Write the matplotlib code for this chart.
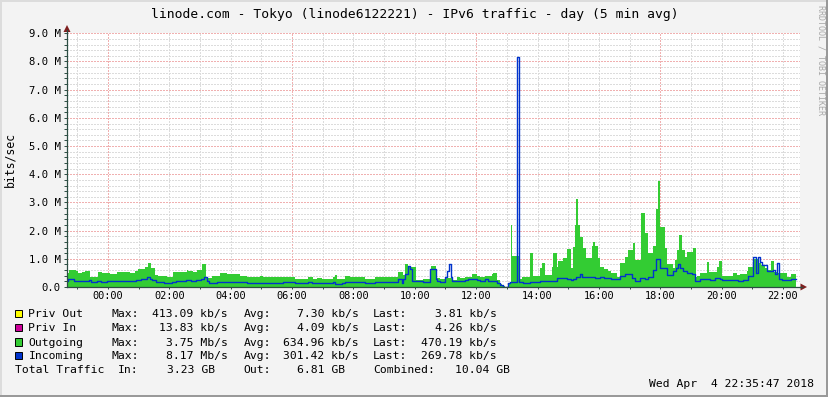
import matplotlib
matplotlib.use("Agg")
import matplotlib.pyplot as plt
from matplotlib.patches import Polygon, Rectangle
from matplotlib.lines import Line2D
import numpy as np

# ---------------- data (hours relative to 00:00, values in Mb/s) ----------------
out_time = [-1.35, -1.26, -1.04, -0.97, -0.86, -0.75, -0.59, -0.31, -0.21, 0.07, 0.28, 0.50,
            0.72, 0.88, 0.99, 1.21, 1.32, 1.39, 1.53, 1.64, 1.91, 2.13, 2.24, 2.56, 2.62, 2.78,
            2.89, 3.05, 3.19, 3.38, 3.65, 3.87, 4.30, 4.52, 4.95, 5.04, 5.88, 6.10, 6.53, 6.69,
            6.80, 6.96, 7.34, 7.40, 7.45, 7.72, 7.89, 8.38, 8.70, 8.97, 9.46, 9.63, 9.68, 9.79,
            10.04, 10.26, 10.53, 10.68, 10.82, 10.98, 11.04, 11.20, 11.36, 11.47, 11.64, 11.74,
            11.87, 12.04, 12.13, 12.29, 12.51, 12.56, 12.69, 12.78, 12.83, 12.94, 13.05, 13.13,
            13.18, 13.40, 13.48, 13.76, 13.86, 14.08, 14.14, 14.24, 14.46, 14.51, 14.62, 14.68,
            14.84, 14.95, 15.08, 15.17, 15.22, 15.27, 15.33, 15.38, 15.47, 15.58, 15.76, 15.82,
            15.87, 15.98, 16.03, 16.17, 16.31, 16.39, 16.58, 16.69, 16.85, 16.96, 17.12, 17.18,
            17.36, 17.50, 17.61, 17.77, 17.86, 17.94, 17.99, 18.16, 18.21, 18.43, 18.48, 18.56,
            18.62, 18.70, 18.81, 18.88, 19.08, 19.16, 19.21, 19.29, 19.51, 19.60, 19.84, 19.92,
            20.00, 20.38, 20.49, 20.60, 20.82, 20.87, 21.03, 21.23, 21.30, 21.41, 21.47, 21.60,
            21.71, 21.80, 21.85, 22.12, 22.25]
out_vals = [0.50, 0.60, 0.55, 0.48, 0.52, 0.55, 0.36, 0.54, 0.50, 0.46, 0.54, 0.52,
            0.49, 0.58, 0.64, 0.72, 0.84, 0.68, 0.42, 0.40, 0.35, 0.54, 0.52, 0.60, 0.56, 0.53,
            0.60, 0.82, 0.32, 0.40, 0.48, 0.46, 0.38, 0.36, 0.40, 0.36, 0.34, 0.30, 0.34, 0.27,
            0.31, 0.27, 0.34, 0.43, 0.28, 0.39, 0.34, 0.27, 0.37, 0.34, 0.52, 0.43, 0.82, 0.72,
            0.25, 0.27, 0.74, 0.31, 0.27, 0.37, 0.33, 0.25, 0.34, 0.31, 0.34, 0.37,
            0.46, 0.39, 0.37, 0.40, 0.46, 0.50, 0.25, 0.11, 0.04, 0.00, 0.11, 2.20,
            1.10, 0.27, 0.34, 1.19, 0.39, 0.66, 0.84, 0.42, 0.72, 1.20, 0.70, 0.94,
            1.02, 1.34, 0.66, 1.43, 2.20, 3.12, 2.20, 1.79, 1.38, 1.02, 1.46, 1.58,
            1.46, 1.02, 0.70, 0.63, 0.58, 0.50, 0.34, 0.84, 1.05, 1.31, 1.57, 0.96,
            2.61, 1.93, 1.19, 1.45, 2.75, 3.75, 2.14, 1.39, 0.82, 0.66, 0.96, 1.31,
            1.84, 1.31, 1.05, 1.25, 1.37, 0.34, 0.39, 0.50, 0.90, 0.54, 0.70, 0.93,
            0.39, 0.48, 0.42, 0.46, 0.58, 0.70, 0.98, 0.86, 0.78, 0.66, 0.60, 0.93,
            0.54, 0.86, 0.50, 0.36, 0.47]

in_time = [-1.35, -1.30, -1.16, -1.11, -0.94, -0.62, -0.57, -0.35, -0.24, -0.02, 0.74, 0.90,
           1.06, 1.28, 1.37, 1.45, 1.55, 1.83, 2.10, 2.21, 2.53, 2.70, 2.86, 3.02, 3.13, 3.22,
           3.29, 3.40, 3.56, 3.73, 4.11, 4.54, 5.12, 5.44, 5.61, 5.71, 6.10, 6.53, 6.64, 7.34,
           7.40, 7.62, 7.72, 8.38, 8.70, 8.97, 9.46, 9.57, 9.63, 9.68, 9.77, 9.84, 9.90, 10.26,
           10.50, 10.68, 10.73, 10.82, 10.98, 11.04, 11.10, 11.18, 11.20, 11.64, 11.74, 12.04,
           12.13, 12.29, 12.40, 12.69, 12.78, 12.88, 13.05, 13.11, 13.34, 13.40, 13.52, 13.76,
           14.08, 14.62, 14.95, 15.08, 15.17, 15.27, 15.38, 15.44, 15.70, 15.87, 16.03, 16.17,
           16.39, 16.69, 16.85, 17.07, 17.18, 17.34, 17.50, 17.61, 17.77, 17.86, 17.99, 18.21,
           18.43, 18.51, 18.59, 18.66, 18.75, 18.86, 19.02, 19.13, 19.29, 19.62, 19.78, 19.95,
           20.00, 20.54, 20.71, 20.87, 21.03, 21.11, 21.20, 21.25, 21.33, 21.47, 21.69, 21.74,
           21.80, 21.88, 21.96, 22.25]
in_vals = [0.22, 0.30, 0.27, 0.22, 0.21, 0.25, 0.18, 0.21, 0.18, 0.22, 0.21, 0.25,
           0.27, 0.37, 0.30, 0.25, 0.18, 0.13, 0.165, 0.21, 0.25, 0.22, 0.25, 0.27, 0.37, 0.22,
           0.13, 0.15, 0.18, 0.19, 0.165, 0.15, 0.13, 0.15, 0.13, 0.165, 0.13, 0.165, 0.13, 0.165,
           0.09, 0.13, 0.165, 0.13, 0.19, 0.165, 0.27, 0.15, 0.30, 0.46, 0.74, 0.64, 0.22, 0.165,
           0.64, 0.30, 0.22, 0.19, 0.37, 0.58, 0.82, 0.37, 0.22, 0.25, 0.27, 0.25,
           0.22, 0.27, 0.20, 0.13, 0.07, 0.01, 0.15, 0.18, 8.17, 0.18, 0.13, 0.19,
           0.21, 0.31, 0.29, 0.25, 0.30, 0.34, 0.45, 0.34, 0.34, 0.31, 0.34, 0.31,
           0.27, 0.39, 0.45, 0.31, 0.21, 0.31, 0.28, 0.36, 0.60, 0.98, 0.66, 0.43,
           0.55, 0.66, 0.80, 0.66, 0.55, 0.49, 0.45, 0.21, 0.27, 0.26, 0.31, 0.27,
           0.24, 0.21, 0.24, 0.39, 1.05, 0.49, 1.05, 0.90, 0.78, 0.55, 0.60, 0.45,
           0.84, 0.27, 0.24, 0.27]
end_time = 22.43

y_ticks = [0, 1, 2, 3, 4, 5, 6, 7, 8, 9]
y_labels = ["0.0", "1.0 M", "2.0 M", "3.0 M", "4.0 M", "5.0 M", "6.0 M", "7.0 M", "8.0 M", "9.0 M"]
x_ticks = [0, 2, 4, 6, 8, 10, 12, 14, 16, 18, 20, 22]
x_labels = ["00:00", "02:00", "04:00", "06:00", "08:00", "10:00", "12:00",
            "14:00", "16:00", "18:00", "20:00", "22:00"]

title = "linode.com - Tokyo (linode6122221) - IPv6 traffic - day (5 min avg)"
y_title = "bits/sec"
leg_names = ["Priv Out", "Priv In", "Outgoing", "Incoming"]
leg_colors = ["#FFFF00", "#CC0099", "#33CC33", "#0033CC"]
leg_max = ["413.09 kb/s", "13.83 kb/s", "3.75 Mb/s", "8.17 Mb/s"]
leg_avg = ["7.30 kb/s", "4.09 kb/s", "634.96 kb/s", "301.42 kb/s"]
leg_last = ["3.81 kb/s", "4.26 kb/s", "470.19 kb/s", "269.78 kb/s"]
total_in = "3.23 GB"
total_out = "6.81 GB"
total_comb = "10.04 GB"
stamp = "Wed Apr  4 22:35:47 2018"
watermark = "RRDTOOL / TOBI OETIKER"

# ---------------- layout ----------------
W, H = 829, 397
BG = "#F3F3F3"
MONO = "DejaVu Sans Mono"
AXIS_C = "#2C4D43"
ARROW_C = "#7F1F1F"
GRID_C = "#DCDCDC"
MGRID_C = "#F0B0B0"

fig = plt.figure(figsize=(W / 100, H / 100), dpi=100)
fig.patch.set_facecolor(BG)


def fx(x):
    return x / W


def fy(y):
    return 1 - y / H


ax = fig.add_axes([fx(67), fy(287), (800 - 67) / W, (287 - 33.3) / H])
ax.set_facecolor("white")
ax.set_xlim(-1.336, 22.555)
ax.set_ylim(0, 9.0)

dot = (0, (1.4, 1.4))
for h in range(-1, 23):
    ax.axvline(h, color=MGRID_C if h % 6 == 0 else GRID_C, ls=dot, lw=0.72,
               antialiased=False, zorder=0.5)
for yv in np.arange(0.2, 9.01, 0.2):
    major = abs(yv - round(yv)) < 1e-6
    ax.axhline(yv, color=MGRID_C if major else GRID_C, ls=dot, lw=0.72,
               antialiased=False, zorder=0.5)

t_o = np.array(out_time + [end_time])
v_o = np.array(out_vals + [out_vals[-1]])
ax.fill_between(t_o, 0, v_o, step="post", color="#33CC33", lw=0, zorder=2)

t_i = np.array(in_time + [end_time])
v_i = np.array(in_vals + [in_vals[-1]])
ax.plot(t_i, v_i, drawstyle="steps-post", color="#0033CC", lw=1.0, zorder=3)

for s in ["top", "right"]:
    ax.spines[s].set_visible(False)
for s in ["left", "bottom"]:
    ax.spines[s].set_color(AXIS_C)
    ax.spines[s].set_linewidth(0.9)
    ax.spines[s].set_zorder(4)

ax.set_yticks(y_ticks)
ax.set_yticklabels(y_labels, fontsize=7.6, family=MONO)
ax.set_yticks(np.arange(0, 9.01, 0.2), minor=True)
ax.set_xticks(x_ticks)
ax.set_xticklabels(x_labels, fontsize=7.4, family=MONO)
ax.set_xticks(list(range(-1, 23)), minor=True)
ax.tick_params(axis="y", which="both", direction="out", length=2.2, width=0.7,
               color=AXIS_C, pad=2.4)
ax.tick_params(axis="x", which="both", direction="out", length=1.6, width=0.7,
               color=AXIS_C, pad=1.6)

# axis extensions and arrows
fig.add_artist(Line2D([fx(67), fx(67)], [fy(33.3), fy(30)], color=AXIS_C, lw=0.9,
                      transform=fig.transFigure))
fig.add_artist(Line2D([fx(800), fx(802)], [fy(287), fy(287)], color=AXIS_C, lw=0.9,
                      transform=fig.transFigure))
fig.add_artist(Polygon([(fx(67), fy(25)), (fx(63.5), fy(32)), (fx(70.5), fy(32))],
                       closed=True, transform=fig.transFigure, facecolor=ARROW_C,
                       edgecolor="none"))
fig.add_artist(Polygon([(fx(807), fy(287)), (fx(800.5), fy(283.5)), (fx(800.5), fy(290.5))],
                       closed=True, transform=fig.transFigure, facecolor=ARROW_C,
                       edgecolor="none"))

# texts
fig.text(fx(415), fy(18), title, ha="center", va="baseline", fontsize=9.4, family=MONO)
fig.text(fx(10), fy(160), y_title, ha="center", va="center", rotation=90,
         fontsize=8.3, family=MONO)
fig.text(fx(821), fy(5), watermark, ha="center", va="top", rotation=270,
         fontsize=6, family=MONO, color="#A8A8A8")

baselines = [317.3, 331.2, 345.6, 359.4]
fs = 8.2
for i in range(4):
    b = baselines[i]
    fig.add_artist(Rectangle((fx(14.7), fy(b)), 7.3 / W, 7.5 / H, transform=fig.transFigure,
                             facecolor=leg_colors[i], edgecolor="black", lw=0.7))
    fig.text(fx(28.5), fy(b), leg_names[i], ha="left", va="baseline", fontsize=fs, family=MONO)
    fig.text(fx(112), fy(b), "Max:", ha="left", va="baseline", fontsize=fs, family=MONO)
    fig.text(fx(228), fy(b), leg_max[i], ha="right", va="baseline", fontsize=fs, family=MONO)
    fig.text(fx(243.5), fy(b), "Avg:", ha="left", va="baseline", fontsize=fs, family=MONO)
    fig.text(fx(359), fy(b), leg_avg[i], ha="right", va="baseline", fontsize=fs, family=MONO)
    fig.text(fx(373), fy(b), "Last:", ha="left", va="baseline", fontsize=fs, family=MONO)
    fig.text(fx(496.5), fy(b), leg_last[i], ha="right", va="baseline", fontsize=fs, family=MONO)

b = 373.4
fig.text(fx(15), fy(b), "Total Traffic", ha="left", va="baseline", fontsize=fs, family=MONO)
fig.text(fx(118), fy(b), "In:", ha="left", va="baseline", fontsize=fs, family=MONO)
fig.text(fx(215), fy(b), total_in, ha="right", va="baseline", fontsize=fs, family=MONO)
fig.text(fx(243), fy(b), "Out:", ha="left", va="baseline", fontsize=fs, family=MONO)
fig.text(fx(345.5), fy(b), total_out, ha="right", va="baseline", fontsize=fs, family=MONO)
fig.text(fx(373), fy(b), "Combined:", ha="left", va="baseline", fontsize=fs, family=MONO)
fig.text(fx(510), fy(b), total_comb, ha="right", va="baseline", fontsize=fs, family=MONO)

fig.text(fx(814), fy(387), stamp, ha="right", va="baseline", fontsize=fs, family=MONO)

# frame shading
fig.add_artist(Rectangle((0, fy(2)), 1, 2 / H, transform=fig.transFigure,
                         facecolor="#DCDCDC", edgecolor="none"))
fig.add_artist(Rectangle((0, 0), 2 / W, 1, transform=fig.transFigure,
                         facecolor="#DCDCDC", edgecolor="none"))
fig.add_artist(Rectangle((0, 0), 1, 2.5 / H, transform=fig.transFigure,
                         facecolor="#999999", edgecolor="none"))
fig.add_artist(Rectangle((1 - 2.5 / W, 0), 2.5 / W, 1, transform=fig.transFigure,
                         facecolor="#999999", edgecolor="none"))

fig.savefig("out.png", dpi=100, facecolor=BG)
